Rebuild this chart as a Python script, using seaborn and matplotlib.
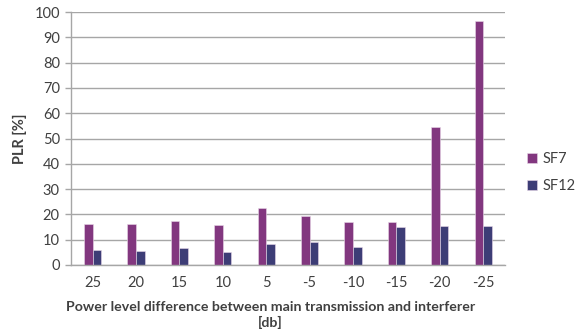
import matplotlib
matplotlib.use("Agg")
import matplotlib.pyplot as plt
import seaborn as sns
import pandas as pd

# Power level difference categories (dB)
levels = ["25", "20", "15", "10", "5", "-5", "-10", "-15", "-20", "-25"]
sf7 = [16.1, 16.1, 17.4, 15.8, 22.4, 19.4, 17.1, 16.9, 54.7, 96.4]
sf12 = [5.9, 5.4, 6.8, 5.0, 8.2, 9.1, 7.1, 15.1, 15.4, 15.3]
series = ["SF7", "SF12"]
colors = ["#8E2A8B", "#33337F"]

df = pd.DataFrame({
    "level": levels * 2,
    "plr": sf7 + sf12,
    "sf": [series[0]] * len(levels) + [series[1]] * len(levels),
})

sns.set_theme(style="white")
plt.rcParams["font.family"] = ["Lato", "DejaVu Sans"]
text_color = "#404040"

fig = plt.figure(figsize=(5.81, 3.35), dpi=100)
ax = fig.add_axes([0.122, 0.209, 0.747, 0.755])

sns.barplot(data=df, x="level", y="plr", hue="sf", order=levels,
            hue_order=series, palette=colors, width=0.4, ax=ax,
            edgecolor="#E8D8E8", linewidth=0.4, legend=True)

ax.set_ylim(0, 100)
ax.set_xlim(-0.5, len(levels) - 0.5)
ax.set_yticks(range(0, 101, 10))
ax.yaxis.grid(True, color="#A6A6A6", linewidth=1.0)
ax.set_axisbelow(True)

for side in ["top", "right"]:
    ax.spines[side].set_visible(False)
ax.spines["left"].set_color("#A6A6A6")
ax.spines["bottom"].set_color("#A6A6A6")
ax.spines["left"].set_linewidth(1.0)
ax.spines["bottom"].set_linewidth(1.0)

ax.tick_params(axis="y", which="major", length=4, width=1.0, color="#A6A6A6",
               left=True, labelsize=10.5, labelcolor=text_color, pad=4)
ax.tick_params(axis="x", length=0, labelsize=10.5, labelcolor=text_color, pad=8)

ax.set_ylabel("PLR [%]", fontsize=10.5, fontweight="bold", color=text_color, labelpad=5)
ax.set_xlabel("Power level difference between main transmission and interferer\n[db]",
              fontsize=10.2, fontweight="bold", color=text_color,
              linespacing=1.25)
ax.xaxis.set_label_coords(0.46, -0.142, transform=ax.transAxes)
ax.xaxis.label.set_verticalalignment("top")

leg = ax.legend(loc="center left", bbox_to_anchor=(1.02, 0.366), frameon=False,
                fontsize=10.5, handlelength=0.7, handleheight=0.7, handletextpad=0.4,
                labelspacing=0.9)
for t in leg.get_texts():
    t.set_color(text_color)

fig.savefig("out.png", dpi=100)
